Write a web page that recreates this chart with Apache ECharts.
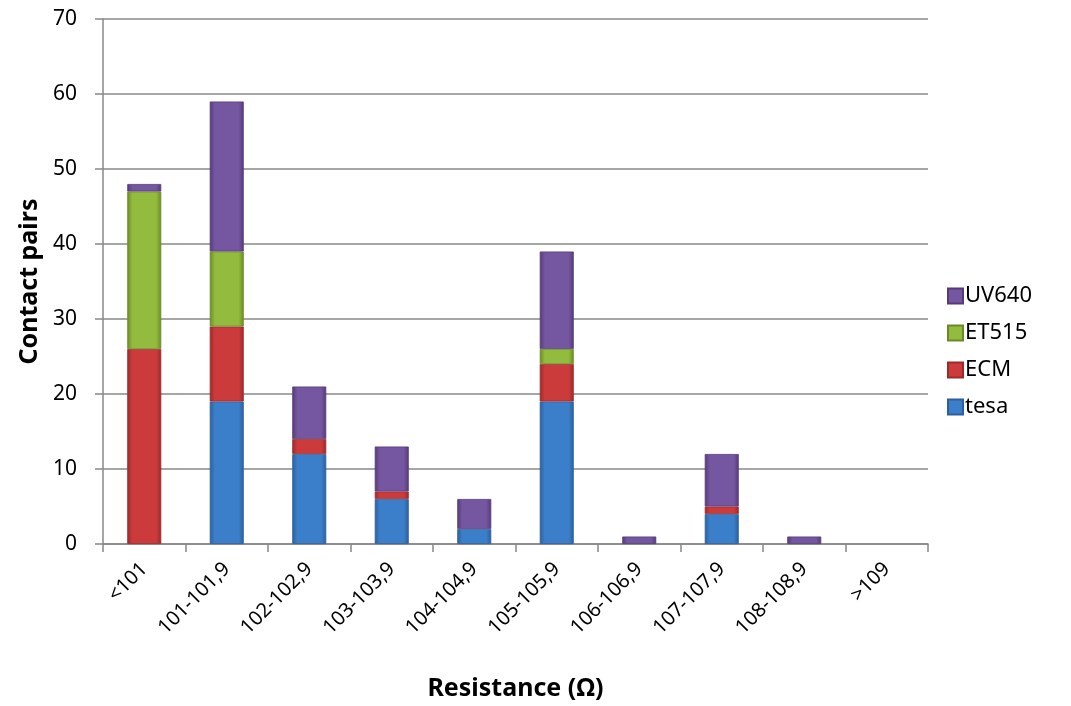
<!DOCTYPE html>
<html>
<head>
<meta charset="utf-8">
<script src="https://cdn.jsdelivr.net/npm/echarts@6/dist/echarts.min.js"></script>
<style>
  html, body { margin: 0; padding: 0; background: #ffffff; }
  #chart { width: 1071px; height: 706px; }
</style>
</head>
<body>
<div id="chart"></div>
<script>
// Resistance bins and contact-pair counts per adhesive
const categories = ['<101', '101-101,9', '102-102,9', '103-103,9', '104-104,9', '105-105,9', '106-106,9', '107-107,9', '108-108,9', '>109'];
const tesa  = [0, 19, 12, 6, 2, 19, 0, 4, 0, 0];
const ecm   = [26, 10, 2, 1, 0, 5, 0, 1, 0, 0];
const et515 = [21, 10, 0, 0, 0, 2, 0, 0, 0, 0];
const uv640 = [1, 20, 7, 6, 4, 13, 1, 7, 1, 0];
const yTicks = [0, 10, 20, 30, 40, 50, 60, 70];

const FONT = '"Noto Sans", "Open Sans", sans-serif';

// bevel-like shading across each bar segment
function shade(dark, light) {
  return new echarts.graphic.LinearGradient(0, 0, 1, 0, [
    { offset: 0, color: dark },
    { offset: 0.15, color: light },
    { offset: 0.85, color: light },
    { offset: 1, color: dark }
  ]);
}

const seriesDefs = [
  { name: 'tesa',  data: tesa,  dark: '#2d5f9a', light: '#3b7fcb', icon: '#3a78c2' },
  { name: 'ECM',   data: ecm,   dark: '#9a2a2b', light: '#cc3b3b', icon: '#c53a3a' },
  { name: 'ET515', data: et515, dark: '#6a8a26', light: '#93bb3d', icon: '#8cb43a' },
  { name: 'UV640', data: uv640, dark: '#553b78', light: '#7556a0', icon: '#70519a' }
];

const chart = echarts.init(document.getElementById('chart'), null, { renderer: 'canvas' });

chart.setOption({
  animation: false,
  backgroundColor: '#ffffff',
  grid: { left: 103, right: 143, top: 19, bottom: 162, containLabel: false },
  legend: {
    orient: 'vertical',
    left: 942,
    top: 280,
    itemWidth: 15,
    itemHeight: 15,
    itemGap: 15,
    icon: 'rect',
    data: ['UV640', 'ET515', 'ECM', 'tesa'],
    textStyle: { fontFamily: FONT, fontSize: 22, color: '#000', padding: [0, 0, 0, -3] }
  },
  xAxis: {
    type: 'category',
    data: categories,
    name: 'Resistance (Ω)',
    nameLocation: 'middle',
    nameGap: 132,
    nameTextStyle: { fontFamily: FONT, fontSize: 25, fontWeight: 'bold', color: '#000' },
    axisLine: { show: true, lineStyle: { color: '#888', width: 1.5 } },
    axisTick: { show: true, alignWithLabel: false, length: 8, lineStyle: { color: '#888', width: 1.5 } },
    axisLabel: { rotate: 45, margin: 22, fontFamily: FONT, fontSize: 20, color: '#000', interval: 0 },
    splitLine: { show: false }
  },
  yAxis: {
    type: 'value',
    min: 0,
    max: 70,
    interval: 10,
    name: 'Contact pairs',
    nameLocation: 'middle',
    nameGap: 57,
    nameRotate: 90,
    nameTextStyle: { fontFamily: FONT, fontSize: 25, fontWeight: 'bold', color: '#000' },
    axisLine: { show: true, lineStyle: { color: '#888', width: 1.5 } },
    axisTick: { show: true, inside: false, length: 8, lineStyle: { color: '#888', width: 1.5 } },
    axisLabel: {
      margin: 26, fontFamily: FONT, fontSize: 21, color: '#000',
      formatter: v => (yTicks.includes(v) ? String(v) : '')
    },
    splitLine: { show: true, lineStyle: { color: '#888', width: 1.5 } }
  },
  series: seriesDefs.map(s => ({
    name: s.name,
    type: 'bar',
    stack: 'total',
    barWidth: 34,
    // empty segments are left out so they draw no sliver
    data: s.data.map(v => (v === 0 ? null : v)),
    color: s.icon,
    itemStyle: {
      color: shade(s.dark, s.light),
      borderColor: s.dark,
      borderWidth: 0.8
    },
    emphasis: { disabled: true }
  }))
});
</script>
</body>
</html>
